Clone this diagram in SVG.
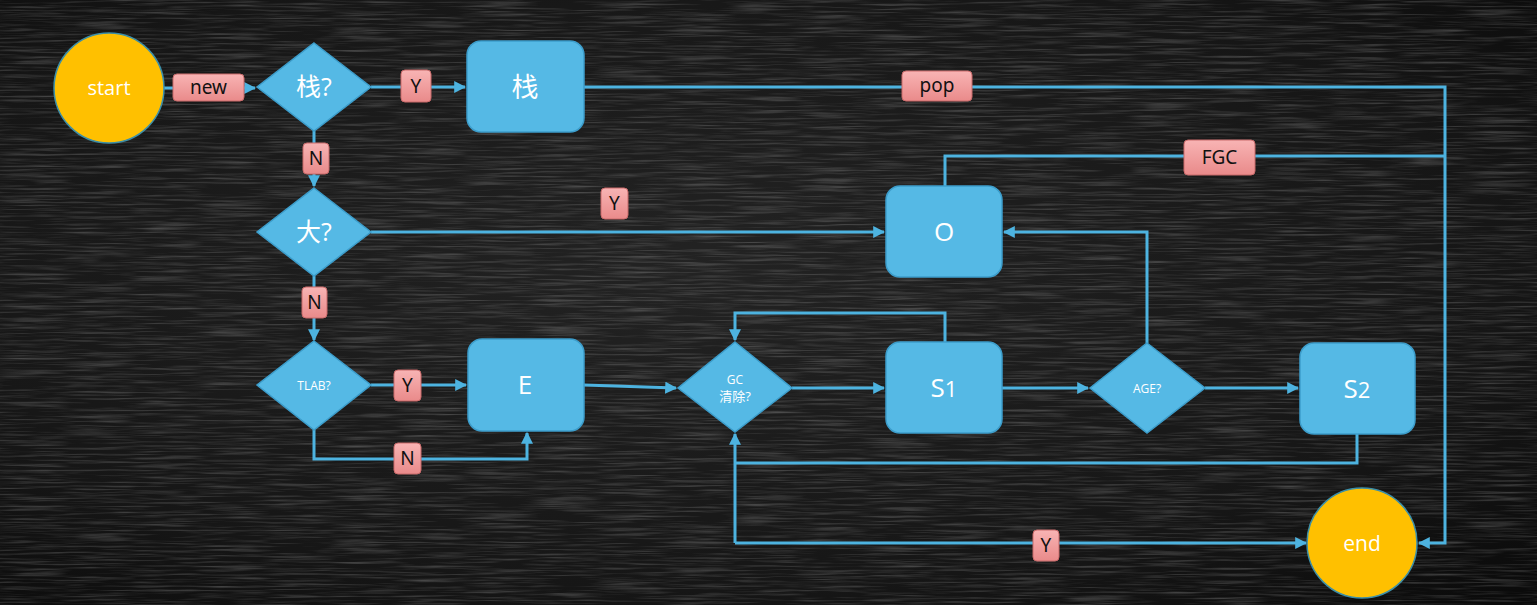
<svg xmlns="http://www.w3.org/2000/svg" width="1537" height="605" viewBox="0 0 1537 605">
<defs>
<radialGradient id="bg" cx="45%" cy="45%" r="75%">
<stop offset="0" stop-color="#232323"/>
<stop offset="0.7" stop-color="#161616"/>
<stop offset="1" stop-color="#0b0b0b"/>
</radialGradient>
<filter id="chalk" x="0" y="0" width="100%" height="100%">
<feTurbulence type="fractalNoise" baseFrequency="0.015 0.5" numOctaves="3" seed="4" result="n"/>
<feColorMatrix in="n" type="matrix" values="0 0 0 0 1  0 0 0 0 1  0 0 0 0 1  0 0 0 0.45 -0.2"/>
</filter>
<linearGradient id="pink" x1="0" y1="0" x2="0" y2="1">
<stop offset="0" stop-color="#F8B4B4"/>
<stop offset="1" stop-color="#E98A8A"/>
</linearGradient>
<marker id="arr" viewBox="0 0 10 10" refX="9" refY="5" markerWidth="4" markerHeight="4" orient="auto" markerUnits="strokeWidth">
<path d="M0,0 L10,5 L0,10 z" fill="#4DB3E0"/>
</marker>
</defs>
<style>
.line{fill:none;stroke:#4DB3E0;stroke-width:3}
.box{fill:#55B9E5;stroke:#3C9DCB;stroke-width:1.5}
.term{fill:#FFC000;stroke:#3C8FA8;stroke-width:1.5}
.lab{fill:url(#pink);stroke:#C96A6A;stroke-width:1}
.lt{font-family:"Noto Sans","Open Sans",sans-serif;font-size:19px;fill:#111;text-anchor:middle}
.nt{font-family:"Open Sans","Noto Sans CJK SC",sans-serif;fill:#fff;text-anchor:middle}
</style>
<rect width="1537" height="605" fill="url(#bg)"/>
<rect width="1537" height="605" filter="url(#chalk)"/>

<g id="connectors">
<path class="line" d="M164,88 H255" marker-end="url(#arr)"/>
<path class="line" d="M371,87 H465" marker-end="url(#arr)"/>
<path class="line" d="M584,87 H1445 V543 H1419" marker-end="url(#arr)"/>
<path class="line" d="M314,131 V186" marker-end="url(#arr)"/>
<path class="line" d="M371,232 H884" marker-end="url(#arr)"/>
<path class="line" d="M314,276 V340" marker-end="url(#arr)"/>
<path class="line" d="M371,385 H466" marker-end="url(#arr)"/>
<path class="line" d="M314,430 V459 H527 V433" marker-end="url(#arr)"/>
<path class="line" d="M584,385 L676,388" marker-end="url(#arr)"/>
<path class="line" d="M792,388 H884" marker-end="url(#arr)"/>
<path class="line" d="M945,342 V313 H735 V340" marker-end="url(#arr)"/>
<path class="line" d="M1002,388 H1088" marker-end="url(#arr)"/>
<path class="line" d="M1147,343 V232 H1004" marker-end="url(#arr)"/>
<path class="line" d="M1205,388 H1298" marker-end="url(#arr)"/>
<path class="line" d="M1357,434 V463 H735"/>
<path class="line" d="M735,543 V434" marker-end="url(#arr)"/>
<path class="line" d="M735,543 H1306" marker-end="url(#arr)"/>
<path class="line" d="M945,186 V156 H1445"/>
</g>

<g id="labels">
<g id="lbl-new"><rect class="lab" x="173" y="74" width="71" height="27" rx="4"/><text class="lt" x="208.5" y="94">new</text></g>
<g id="lbl-y1"><rect class="lab" x="401" y="70" width="30" height="32" rx="4"/><text class="lt" x="416" y="93">Y</text></g>
<g id="lbl-pop"><rect class="lab" x="902" y="71" width="70" height="30" rx="4"/><text class="lt" x="937" y="92">pop</text></g>
<g id="lbl-n1"><rect class="lab" x="303" y="143" width="26" height="31" rx="4"/><text class="lt" x="316" y="165">N</text></g>
<g id="lbl-y2"><rect class="lab" x="601" y="188" width="27" height="31" rx="4"/><text class="lt" x="614.5" y="210">Y</text></g>
<g id="lbl-fgc"><rect class="lab" x="1184" y="140" width="71" height="35" rx="4"/><text class="lt" x="1219.5" y="164">FGC</text></g>
<g id="lbl-n2"><rect class="lab" x="302" y="287" width="25" height="31" rx="4"/><text class="lt" x="314.5" y="309">N</text></g>
<g id="lbl-y3"><rect class="lab" x="394" y="370" width="27" height="31" rx="4"/><text class="lt" x="407.5" y="392">Y</text></g>
<g id="lbl-n3"><rect class="lab" x="394" y="443" width="27" height="31" rx="4"/><text class="lt" x="407.5" y="465">N</text></g>
<g id="lbl-y4"><rect class="lab" x="1033" y="530" width="26" height="31" rx="4"/><text class="lt" x="1046" y="552">Y</text></g>
</g>

<g id="start"><ellipse class="term" cx="109" cy="88" rx="55" ry="55"/><text class="nt" x="109" y="95" font-size="20">start</text></g>
<g id="end"><ellipse class="term" cx="1362" cy="543" rx="55" ry="55"/><text class="nt" x="1362" y="551" font-size="21">end</text></g>

<g id="q-stack"><path class="box" d="M314,43 L371,87 L314,131 L257,87 z"/><text class="nt" x="314" y="96" font-size="25">栈?</text></g>
<g id="stack"><rect class="box" x="467" y="41" width="117" height="91" rx="14"/><text class="nt" x="525" y="97" font-size="27">栈</text></g>
<g id="q-big"><path class="box" d="M314,188 L371,232 L314,276 L257,232 z"/><text class="nt" x="314" y="241" font-size="25">大?</text></g>
<g id="q-tlab"><path class="box" d="M314,341 L371,385 L314,430 L257,385 z"/><text class="nt" x="314" y="390" font-size="12">TLAB?</text></g>
<g id="eden"><rect class="box" x="468" y="339" width="116" height="92" rx="14"/><text class="nt" x="525" y="394" font-size="26">E</text></g>
<g id="q-gc"><path class="box" d="M735,342 L792,388 L735,432 L678,388 z"/><text class="nt" x="735" y="384" font-size="12">GC</text><text class="nt" x="735" y="401" font-size="13">清除?</text></g>
<g id="s1"><rect class="box" x="886" y="342" width="116" height="91" rx="14"/><text class="nt" x="944" y="397" font-size="26">S<tspan font-size="22">1</tspan></text></g>
<g id="q-age"><path class="box" d="M1147,343 L1205,388 L1147,433 L1090,388 z"/><text class="nt" x="1147" y="393" font-size="12">AGE?</text></g>
<g id="s2"><rect class="box" x="1300" y="343" width="115" height="91" rx="14"/><text class="nt" x="1357" y="398" font-size="26">S<tspan font-size="22">2</tspan></text></g>
<g id="old"><rect class="box" x="886" y="186" width="116" height="91" rx="14"/><text class="nt" x="944" y="241" font-size="26">O</text></g>
</svg>
